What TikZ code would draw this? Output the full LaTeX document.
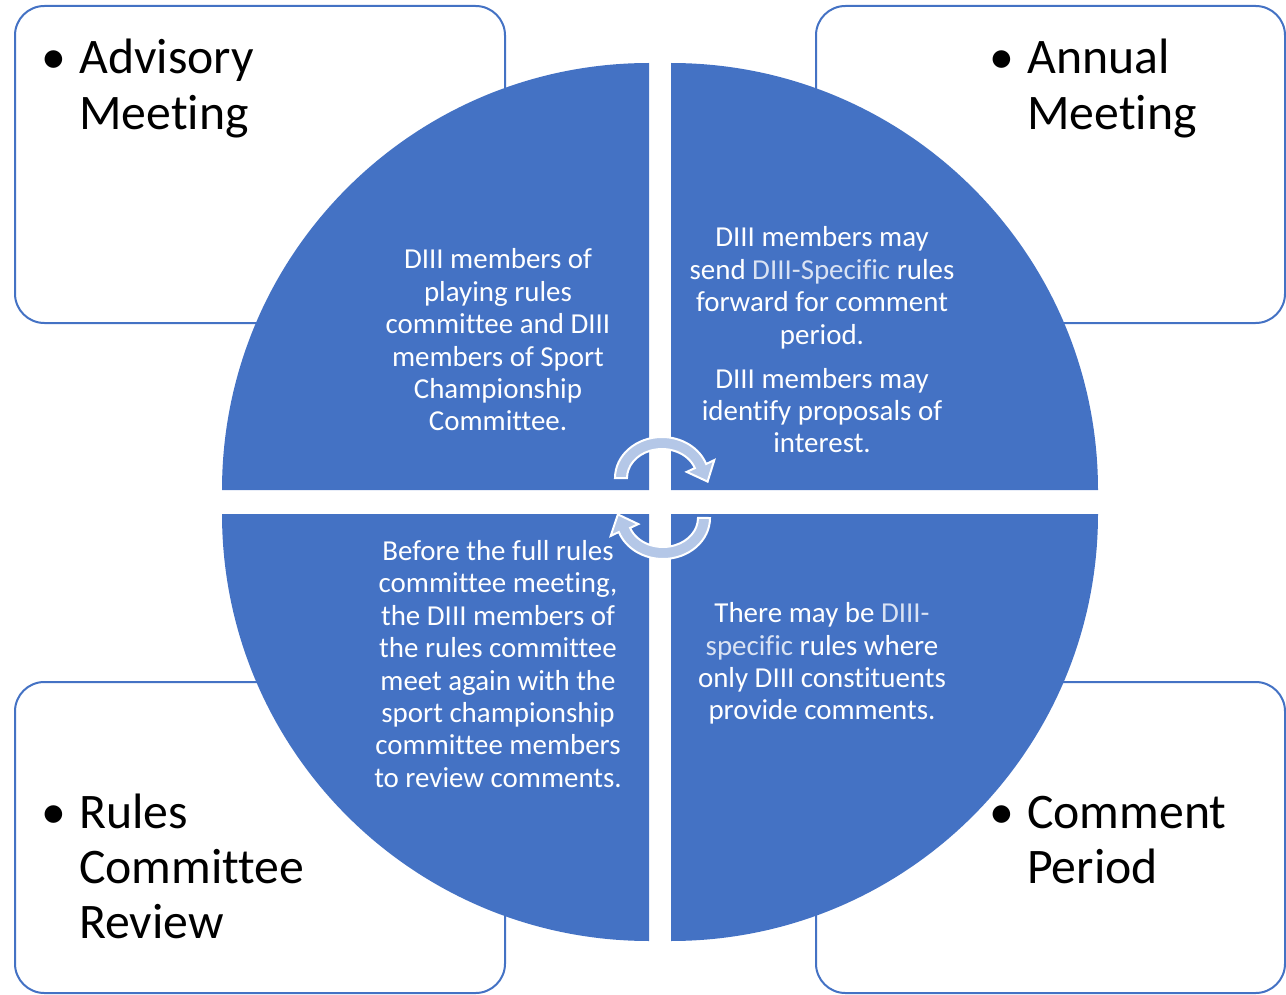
\documentclass[tikz,border=0pt]{standalone}
\usepackage{fontspec}
\setmainfont{Carlito}[Ligatures={NoCommon}]
\definecolor{accent}{HTML}{4472C4}
\definecolor{arrowfill}{HTML}{B4C7E7}
\definecolor{lighttext}{HTML}{DAE3F3}
\begin{document}
\begin{tikzpicture}[x=0.75pt,y=-0.75pt,
  cornerbox/.style={draw=accent, line width=1.5pt, fill=white, rounded corners=22pt},
  quad/.style={fill=accent},
  quadtext/.style={text=white, align=center, font=\fontsize{21.7}{24.3}\selectfont, inner sep=0pt},
  bigtext/.style={font=\fontsize{37.3}{41.6}\selectfont, inner sep=0pt, anchor=base west},
  bulletmark/.style={font=\fontsize{37.3}{41.6}\selectfont, inner sep=0pt, anchor=base},
  cyclearrow/.style={fill=arrowfill, draw=white, line width=1.5pt, line join=miter}
]
\useasboundingbox (0,0) rectangle (1286,995);

% corner boxes
\draw[cornerbox] (15,6) rectangle (505,323);
\draw[cornerbox] (816,6) rectangle (1285,323);
\draw[cornerbox] (15,682) rectangle (505,993);
\draw[cornerbox] (816,682) rectangle (1285,993);

% quadrants
\fill[quad] (649,490) -- (222,490) arc[start angle=180,end angle=270,radius=427] -- cycle;
\fill[quad] (671,490) -- (671,63) arc[start angle=270,end angle=360,radius=427] -- cycle;
\fill[quad] (671,514) -- (1098,514) arc[start angle=0,end angle=90,radius=427] -- cycle;
\fill[quad] (649,514) -- (649,941) arc[start angle=90,end angle=180,radius=427] -- cycle;

% cycle arrows
\filldraw[cyclearrow] (615,478) arc[start angle=180,end angle=340,x radius=47,y radius=41]
  -- (714.3,460.1) -- (707.6,481.6) -- (686.7,471.9) -- (694.9,468.1)
  arc[start angle=340,end angle=180,x radius=35,y radius=29] -- cycle;
\filldraw[cyclearrow] (710,518) arc[start angle=0,end angle=160,x radius=47,y radius=41]
  -- (610.7,535.9) -- (617.9,514.4) -- (638.3,524.1) -- (630.1,527.9)
  arc[start angle=160,end angle=0,x radius=35,y radius=29] -- cycle;

% quadrant texts
\node[quadtext] (tl) at (498,340) {DIII members of\\playing rules\\committee and DIII\\members of Sport\\Championship\\Committee.};
\node[quadtext] (tr) at (822,340) {DIII members may\\send {\color{lighttext}DIII-Specific} rules\\forward for comment\\period.\\[8.7pt]DIII members may\\identify proposals of\\interest.};
\node[quadtext] (bl) at (498,664) {Before the full rules\\committee meeting,\\the DIII members of\\the rules committee\\meet again with the\\sport championship\\committee members\\to review comments.};
\node[quadtext] (br) at (822,663.5) {There may be {\color{lighttext}DIII-}\\{\color{lighttext}specific} rules where\\only DIII constituents\\provide comments.};

% box labels
\node[bulletmark] (b1) at (54,74) {\textbullet};
\node[bigtext] (advisory) at (79,74) {\begin{tabular}[t]{@{}l@{}}Advisory\\Meeting\end{tabular}};
\node[bulletmark] (b2) at (1002,74) {\textbullet};
\node[bigtext] (annual) at (1027,74) {\begin{tabular}[t]{@{}l@{}}Annual\\Meeting\end{tabular}};
\node[bulletmark] (b3) at (54,828) {\textbullet};
\node[bigtext] (rules) at (79,828) {\begin{tabular}[t]{@{}l@{}}Rules\\Committee\\Review\end{tabular}};
\node[bulletmark] (b4) at (1002,828) {\textbullet};
\node[bigtext] (comment) at (1027,828) {\begin{tabular}[t]{@{}l@{}}Comment\\Period\end{tabular}};
\end{tikzpicture}
\end{document}
